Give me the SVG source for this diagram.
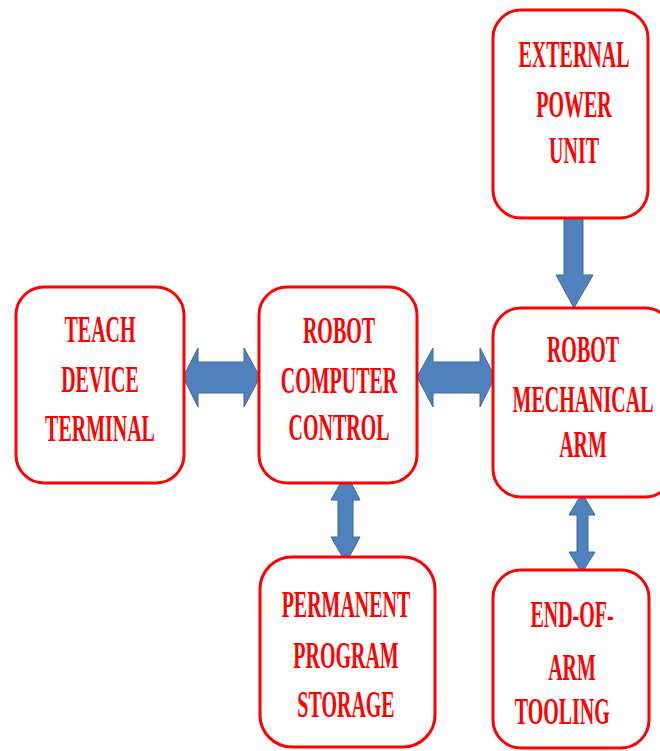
<svg xmlns="http://www.w3.org/2000/svg" width="660" height="751" viewBox="0 0 660 751">
<style>
.box{fill:#fff;stroke:#ff0000;stroke-width:3}
.lbl{font-family:"Liberation Serif","Times New Roman",serif;font-weight:bold;font-size:37px;fill:#ff0000;text-anchor:middle}
.arr{fill:#4f81bd;stroke:#3c6898;stroke-width:1}
</style>
<rect width="660" height="751" fill="#fff"/>
<g id="connectors">
<path class="arr" d="M183,377 L198,348 L198,362 L244,362 L244,348 L260,377 L244,407 L244,393 L198,393 L198,407 Z"/>
<path class="arr" d="M417,377 L433,348 L433,362 L480,362 L480,348 L495,377 L480,407 L480,393 L433,393 L433,407 Z"/>
<path class="arr" d="M564,218 L583,218 L583,275 L593,275 L574,308 L556,275 L564,275 Z"/>
<path class="arr" d="M346,473 L360,500 L353,500 L353,537 L360,537 L346,563 L331,537 L338,537 L338,500 L331,500 Z"/>
<path class="arr" d="M582,493 L595,515 L588,515 L588,552 L595,552 L582,573 L569,552 L577,552 L577,515 L569,515 Z"/>
</g>
<g id="teach">
<rect class="box" x="16" y="287" width="168" height="196" rx="28"/>
<g transform="translate(100 0) scale(0.54 1)">
<text class="lbl" x="0" y="342">TEACH</text>
<text class="lbl" x="0" y="392">DEVICE</text>
<text class="lbl" x="0" y="441">TERMINAL</text>
</g>
</g>
<g id="computer">
<rect class="box" x="259" y="287" width="158" height="196" rx="28"/>
<g transform="translate(339 0) scale(0.54 1)">
<text class="lbl" x="0" y="343">ROBOT</text>
<text class="lbl" x="0" y="393">COMPUTER</text>
<text class="lbl" x="0" y="440">CONTROL</text>
</g>
</g>
<g id="power">
<rect class="box" x="493" y="10" width="155" height="208" rx="28"/>
<g transform="translate(574 0) scale(0.54 1)">
<text class="lbl" x="0" y="67">EXTERNAL</text>
<text class="lbl" x="0" y="117">POWER</text>
<text class="lbl" x="0" y="163">UNIT</text>
</g>
</g>
<g id="arm">
<rect class="box" x="493" y="308" width="180" height="189" rx="28"/>
<g transform="translate(583 0) scale(0.54 1)">
<text class="lbl" x="0" y="362">ROBOT</text>
<text class="lbl" x="0" y="412">MECHANICAL</text>
<text class="lbl" x="0" y="457">ARM</text>
</g>
</g>
<g id="storage">
<rect class="box" x="260" y="557" width="175" height="190" rx="32"/>
<g transform="translate(346 0) scale(0.54 1)">
<text class="lbl" x="0" y="617">PERMANENT</text>
<text class="lbl" x="0" y="668">PROGRAM</text>
<text class="lbl" x="0" y="717">STORAGE</text>
</g>
</g>
<g id="tooling">
<rect class="box" x="493" y="570" width="156" height="178" rx="28"/>
<g transform="translate(572 0) scale(0.54 1)">
<text class="lbl" x="0" y="627">END-OF-</text>
<text class="lbl" x="0" y="680">ARM</text>
<text class="lbl" x="-18" y="724">TOOLING</text>
</g>
</g>
</svg>
